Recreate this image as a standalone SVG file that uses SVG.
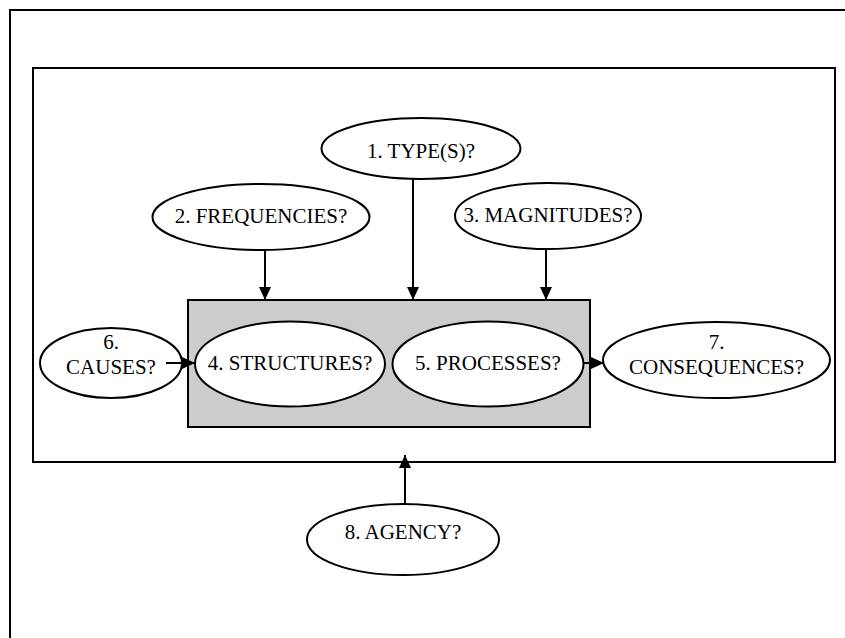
<svg xmlns="http://www.w3.org/2000/svg" width="845" height="638" viewBox="0 0 845 638">
  <defs>
    <marker id="arrow" markerWidth="14" markerHeight="12" refX="13" refY="6" orient="auto" markerUnits="userSpaceOnUse">
      <path d="M0,0 L13,6 L0,12 Z" fill="#000"/>
    </marker>
    <style>
      .frame { fill: #fff; stroke: #000; stroke-width: 2; }
      .cluster { fill: #cccccc; stroke: #000; stroke-width: 2; }
      .node ellipse { fill: #fff; stroke: #000; stroke-width: 2; }
      .node text { font-family: "Liberation Serif", "Times New Roman", serif; font-size: 21px; fill: #000; text-anchor: middle; }
      .edge { stroke: #000; stroke-width: 2; fill: none; marker-end: url(#arrow); }
    </style>
  </defs>

  <rect width="845" height="638" fill="#fff"/>

  <!-- outer page frame (runs off right and bottom) -->
  <rect class="frame" x="10" y="10" width="860" height="660"/>
  <!-- inner frame -->
  <rect class="frame" x="33" y="68" width="802" height="394"/>
  <!-- grey cluster holding structures and processes -->
  <rect class="cluster" x="188" y="300" width="402" height="127"/>

  <g id="n1" class="node">
    <ellipse cx="421" cy="148.5" rx="99.5" ry="30.5"/>
    <text x="421" y="158">1. TYPE(S)?</text>
  </g>
  <g id="n2" class="node">
    <ellipse cx="261" cy="217" rx="108.5" ry="33"/>
    <text x="261" y="223">2. FREQUENCIES?</text>
  </g>
  <g id="n3" class="node">
    <ellipse cx="548" cy="216" rx="93" ry="33"/>
    <text x="548" y="222">3. MAGNITUDES?</text>
  </g>
  <g id="n4" class="node">
    <ellipse cx="290" cy="364" rx="95" ry="42.5"/>
    <text x="290" y="370">4. STRUCTURES?</text>
  </g>
  <g id="n5" class="node">
    <ellipse cx="488" cy="364" rx="95.5" ry="42.5"/>
    <text x="488" y="370">5. PROCESSES?</text>
  </g>
  <g id="n6" class="node">
    <ellipse cx="111" cy="363" rx="71" ry="35"/>
    <text x="111" y="349">6.</text>
    <text x="111" y="374">CAUSES?</text>
  </g>
  <g id="n7" class="node">
    <ellipse cx="716.5" cy="360" rx="113.5" ry="38"/>
    <text x="716.5" y="349">7.</text>
    <text x="716.5" y="374">CONSEQUENCES?</text>
  </g>
  <g id="n8" class="node">
    <ellipse cx="403" cy="539.5" rx="96" ry="35.5"/>
    <text x="403" y="539">8. AGENCY?</text>
  </g>

  <g id="edges">
    <line class="edge" x1="413" y1="179" x2="413" y2="300"/>
    <line class="edge" x1="265" y1="250" x2="265" y2="300"/>
    <line class="edge" x1="546" y1="249" x2="546" y2="300"/>
    <line class="edge" x1="166" y1="363" x2="195" y2="363"/>
    <line class="edge" x1="583" y1="363" x2="604" y2="363"/>
    <line class="edge" x1="405" y1="504" x2="405" y2="455"/>
  </g>
</svg>
